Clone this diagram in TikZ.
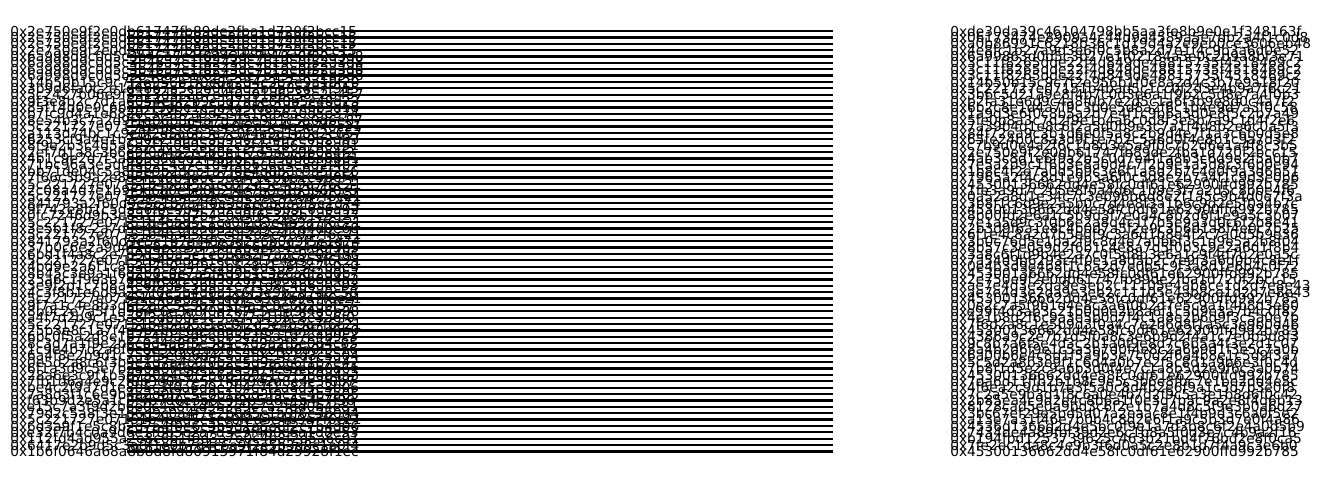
\documentclass[tikz,border=0pt]{standalone}
\usepackage{fontspec}
\setmainfont{DejaVu Sans}
\usetikzlibrary{positioning}

\begin{document}
\begin{tikzpicture}[
    x=0.75pt, y=-0.75pt,
    lab/.style={anchor=west, inner sep=0pt, font=\fontsize{10.3}{11}\selectfont},
    edge/.style={line width=1.7pt, black}]
\useasboundingbox (0,0) rectangle (1324,482);
\foreach \src/\dst [count=\i] in {
    0x2e750e9f2e0db61747fb89de2fba1d720f2bcc15/0xde30da39c46104798bb5aa3fe8b9e0e1f348163f,
    0x2e750e9f2e0db61747fb89de2fba1d720f2bcc15/0x06173474e8909a4c44d9a4589a5e7db2a4f1c0d8,
    0x2e750e9f2e0db61747fb89de2fba1d720f2bcc15/0xa0b86991c6218b36c1d19d4a2e9eb0ce3606eb48,
    0x2e750e9f2e0db61747fb89de2fba1d720f2bcc15/0x4e8fc1b27a9d3e6f0c5b8a2d7e1f4c9b3a6d0e52,
    0x6a998d9c0d5c3b46a7e1f8243dc7b19e0f52a3d8/0x6a99863d0d5c3b27e1f02184a5e0c2d9a8bf3e71,
    0x6a998d9c0d5c3b46a7e1f8243dc7b19e0f52a3d8/0x3c11f8265dde22f4d849de48815735f4518469c2,
    0x6a998d9c0d5c3b46a7e1f8243dc7b19e0f52a3d8/0x3c11f8265dde22f4d849de48815735f4518469c2,
    0x6a998d9c0d5c3b46a7e1f8243dc7b19e0f52a3d8/0x3c11f8265dde22f4d849de48815735f4518469c2,
    0x14b50b15c9c7f2e956b1f0e8a2d4c3b7e9a18f20/0x14b50b15c9c7f2e956b1f0e8a2d4c3b7e9a18f20,
    0x3b9d6fa0c2e1d48b7a5c9e0f13d2b6a8c4e7f915/0x5c221727e07151b4bad5c1cc0f2d3e4b9a7f6c21,
    0x5c2427b06e9f8a13d5c2b7e4f0a91d6c38e2b457/0x3b6c5d21a9e8f4b7c0d3e6a1f9b2c5d8e7a4f0b3,
    0x9f3e8b2c7d1a6054e8f2b9c3d7a1e6f0b5c48d23/0xb2fa31e6d9c4a8f0b7e2d5c1a6f3b9e8d0c4a7f2,
    0x85f14d0e9c6b2a7f3d8e1c5b4a9f0e2d7c6b3a18/0x6b2c8e1d4a7f9c3b0e5d8a2f6c1b4e9d7a3f0c58,
    0xb7fc9d4a1e6820c5f3b7a9d2e4c1f8b6a0d5e374/0x1a9d3e6f0c8b5a2d7e4f1c9b6a3d0e8f5c2b7a49,
    0x8e54b3c7a2d9f1e06b8c4a7d3f2e9b1c5a0d6e87/0x5fe0b8a3c7d2f9e1b4a6c0d8f3e5b7a9c1d4f2e6,
    0x5c221727e07151b4bad5c1cc0f2d3e4b9a7f6c21/0x7a39b4d1e8c6f2a5d0b9e3c7a1f4d8b2e6c0a5f3,
    0xa113d74bc1c9e8f2d5a6b3e7c0f4a9d1b8e2c657/0x84f72ea9c3b1d6e0f5a8c2b9d4e7f1a3c6b0d5e8,
    0x6253cf9a4e1b7d0c2f8a5e3b9d6c1f4a7e0b2d83/0x65fe24b0c8a3d9f1e7b2c5a6d0f4e8b1c9a7d3f2,
    0x8f9e2b3c4d5a6e7f1c0b9a8d2e3f4c5b6a7d8e91/0xc7b9d0e4a2f6c1b8d3e5a9f0c7b2d6e1a4f8c3b5,
    0x2ef7d1a8c3b6e9f0d4a2c5b8e1f7d3a6c9b0e4f2/0x2e750e9f2e0db61747fb89de2fba1d720f2bcc15,
    0x4b1c9e2d7f3a8b5c0e6d1f4a9b2c7e3d8f5a0b61/0x4ab3c8d1e6f9a2b5c0d7e4f1a8b3c6d9e2f5a0b7,
    0x71bc96a3e5d0f8b2c4a7e1d9f3b6c0a5e8d2f4b7/0x7e5a2d9c1f6b3e8a0d4c7f2b9e1a5d8c3f6b0e94,
    0xbb71de04c5a8f3e9b2d6c1a7f0e4d8b3c9a5f2e6/0x1b8c4f2e7a0d5b9c3e6f1a8d2b7c4e0f9a3d6b51,
    0x7f66c3b9a2e8d5f1c0b4a6e9d3f7c2b8a1e5d0f4/0x7965a2f4c8d1e9b3a6f0c5d8e2b7a4f1c9d3e0b6,
    0x5c221727e07151b4bad5c1cc0f2d3e4b9a7f6c21/0x45300136662dd4e58fc0df61e62900ffd992b785,
    0x2c08a4d7e1b9f3c6a0e5d8b2f4c7a9e1d3b6f0c5/0x1fe3a9d7c2b5e8f0a4d6c1b9e3f7a2d5c8b0e4f6,
    0x5c221727e07151b4bad5c1cc0f2d3e4b9a7f6c21/0x0a52a8d1e34c7c3eb96b6d8e2f1a5c9b4d0e7f3a,
    0x841793a2f60d9e5c1b7a4f8e3d2c6b0a9f5e1d74/0x3b8f1c6d9e2a5b0c7d4e8f3a1b6c9d2e5f0a4b7c,
    0x9f742e8b1c5d3a6f0e9b4c7d2a8f1e5b3c0d6a92/0x45300136662dd4e58fc0df61e62900ffd992b785,
    0x0fc7246d9b3e8a1f5c2d7b4e0a9f6c3d8b1e5a27/0x8b00fd2e6a1c5b9d3f7e0a4c8b2d6f1e9a5c3b07,
    0x5c221727e07151b4bad5c1cc0f2d3e4b9a7f6c21/0x7e1a5d9c3f0b6e2a8d4c1f7b5e9a3d0c6f2b8e41,
    0x3e5b1f8c2a7d9e4b0c6f3a8d1e5b9c2f7a4d0e68/0x2b3d9f6a1e8c4b0d7a5f2e9c3b6d1a8f4e0c7b25,
    0x5c221727e07151b4bad5c1cc0f2d3e4b9a7f6c21/0x6f1e4c8a2d7b5e0f9c3a6d1b8e4f2c7a0d5b9e36,
    0x841793a2f60d9e5c1b7a4f8e3d2c6b0a9f5e1d74/0x3b0c76d5e1ba2f9c8d4e7a0b6f3c1d9e5a2b8f04,
    0x37b0c6e2a9d4f1b8e3c5a7d0f2b6e9c1a4d8f3b5/0x8b57c3e0a9d2f6b1c4e8a7d5f0b3c9e2a6d1f8b4,
    0x6bd1f4a8c2e7b9d3f0a5c1e6b8d2f7a3c9e0b4d6/0x3a8c6f1d9b4e2a7c0f5d8b3e6a1c9f4d7b2e0a5c,
    0x5c221727e07151b4bad5c1cc0f2d3e4b9a7f6c21/0x7a54d9b6293c4f0e1a8d5b2c7e9f3a6d0b4c8e1f,
    0x4bd9e2a6f1c8b3d7e0a4f9c2b5e8d1a6f3c7b0e9/0x0e4b3d9e4b8f1c6a2d7e0b5c9f3a8d1e6b4c0f72,
    0x8b45c3e9a1f6d2b8c0e7a5f4d9b1c3e6a8f2d0b7/0x45300136662dd4e58fc0df61e62900ffd992b785,
    0x25a6c1f9e3b7d0a4c8f2e5b9d1a7c3f6e0b8d4a2/0x2e750e9f2e0db61747fb89de2fba1d720f2bcc15,
    0x3e9f2d1c7b8a4e6f0d5c3b9a2e7f1d8c4b6a0e93/0xae7e4d3e2da9e3eb2c11105e4ab8ce1d2d7e8e43,
    0x4c3f8b1e6d9a2c7f0e5b4d8a1c6f3e9b2d7a0c58/0xae7e4d3e2da9e3eb2c11105e4ab8ce1d2d7e8e43,
    0x5c221727e07151b4bad5c1cc0f2d3e4b9a7f6c21/0x45300136662dd4e58fc0df61e62900ffd992b785,
    0x9f7a1c4e8b3d6f2a0c5e9b7d1f4a3c8e6b2d0f57/0x0e2c7a5f9b1d4e8c3a6f0b2d7e5c9a1f4b8d3e60,
    0x8b0c2e7a5f1d9b4c6e3a8f0d2b7c5e1a9f4d6b38/0xe99f4d3ab3c21b0d0e2b8a6f1c5d9e3a7b4c0f82,
    0xa4f7d2b9c1e5a8f3d6b0c4e9a2f7d1b5c8e3a6f0/0x4e1b8d2f6c9a3e5b0d7f4c1a8e2b6d9f3c5a0e7b,
    0x5c221727e07151b4bad5c1cc0f2d3e4b9a7f6c21/0x7f6d2a8c1e5b9d3f0a4c7e2b6d8f1a5c3e9b0d46,
    0x25b3e8c1a7f4d9b2e6c0a5f8d3b1e7c4a9f2d6b0/0x45300136662dd4e58fc0df61e62900ffd992b785,
    0x6bc0f5a2d8e1b7c4f9a3d6e0b5c2f8a1d7e4b9c3/0x4386a9c2e7b1d5f0a8c3e6b9d2f4a1c7e0b5d8f3,
    0x8c3d7a1f9e2b6c0d4a8f5e3b1c7d9a2f6e0b4c85/0x9c8b7a6f5e4d3c2b1a0f9e8d7c6b5a4f3e2d1c07,
    0x1c9e4b7d2a6f0c8e3b5d1a9f7c2e6b4d8a0f3c16/0x8a4b2d6f9e1c5a3b7d0f4e8c2a6b9d1f3e5c7a0b,
    0x6a4f8e2b9d1c7a3f5e0b6d4c8a2f9e1b7d3c5a04/0x6a00b6e4c8d1f5a9b3e7c0d2f6a4b8e1c5d9f3a7,
    0x0e5d2a8c6f3b9e1d7a4c0f8b2e5d9a3c6f1b7e42/0x5c5d2a8b3e9f1c6d4a0b7e2f5c8d1a9b6e3f0c4d,
    0x6f1a3d9c5e7b2a0d8f4c6e1b9a3d7f2c5e8b0a61/0x7b8f1d5e2c9a6b3d0f4e7c1a8b5d2e9f6c3a0b74,
    0x28a6e3c9f1b5d7a0e4c8f2b6d3a9e1c7f5b0d4a3/0x45300136662dd4e58fc0df61e62900ffd992b785,
    0x7fb1d6a4e9c2f8b3d0a7e5c1f6b9d2a8e4c3f0b7/0x7da6d11ffb2b1b8c9e5c3b6e8fbc7e1be2dd4e5c,
    0xbe4c2f9a7d1e8b5c3f0a6d9e2b4c7f1a8d5e3b06/0x4f6ea2c9d1b7e3f5a0c8d4b2e6f9a1c5d7b3e0f8,
    0x7a8d3f1c6e9b4a2d0f7c5e8b1a6d3f9c2e4b7a05/0x7c2a5e9b3d1f8c6a0e4b7d2f9c5a3e1b8d6f0c42,
    0xf63b9d2e5a1c8f4b7d0e3a6c9f2b5d8e1a4c7f30/0x2b85ea4c9d2e4c8b6a1f0e3d7b5c9a2e8f4d6b13,
    0xe15c7a3f9d2b6e0c4a8f1d5b3e9c7a2f6d0b4e81/0x8128cad5e0a9bd3c6f2e1b7a4d8c5f9e3b0a6d27,
    0x79d2c5a8f3e1b6d9c0a4f7e2b8d5c1a9f6e3b0d4/0x3bc67ef29e5bd5d07a2eaac8e1f4b9d3c6a0f5e2,
    0x5c221727e07151b4bad5c1cc0f2d3e4b9a7f6c21/0xa13e7a31f46e7b0b4c8d2e6f1a9c5b3d7e0f4a86,
    0x6d3a9f1e5c8b2d7a4f0e6c3b9d1a5e8f2c7b4d06/0x4536d1366d2d4e5bc0f9e1a7d3b8c6f2e4a0d5b9,
    0xe32f7b4c0a9d6e1f8b5c2a7d3e9f4b0c6a1d8e53/0x7434de4a89fbf39d2e6c1b8a5f0d3e7c4b9a2f16,
    0x112fd4ad955a2e8c6b1f9d3a7e0c4b8f2d5a6c91/0xb194fbd1253739625c463b21bd4f76bd2e8f0ca5,
    0x6417e2b9d5c3a8f1e0b7d4c6a9f2e5b3d8c1a0f4/0x7fe2ec1da8c4e9b3f6d0a5c2e8b1d7f4a9c3e6b0,
    0x1b6f0646a68a8b8d8fd80915971f84d29928f1ec/0x45300136662dd4e58fc0df61e62900ffd992b785}{
  \pgfmathsetmacro{\yy}{31+(\i-1)*6.37}
  \coordinate (a\i) at (127,\yy);
  \coordinate (b\i) at (833,\yy);
  \node[lab] (src\i) at (10,\yy) {\src};
  \node[lab] (dst\i) at (950,\yy) {\dst};
  \draw[edge] (a\i) -- (b\i);
}
\end{tikzpicture}
\end{document}
